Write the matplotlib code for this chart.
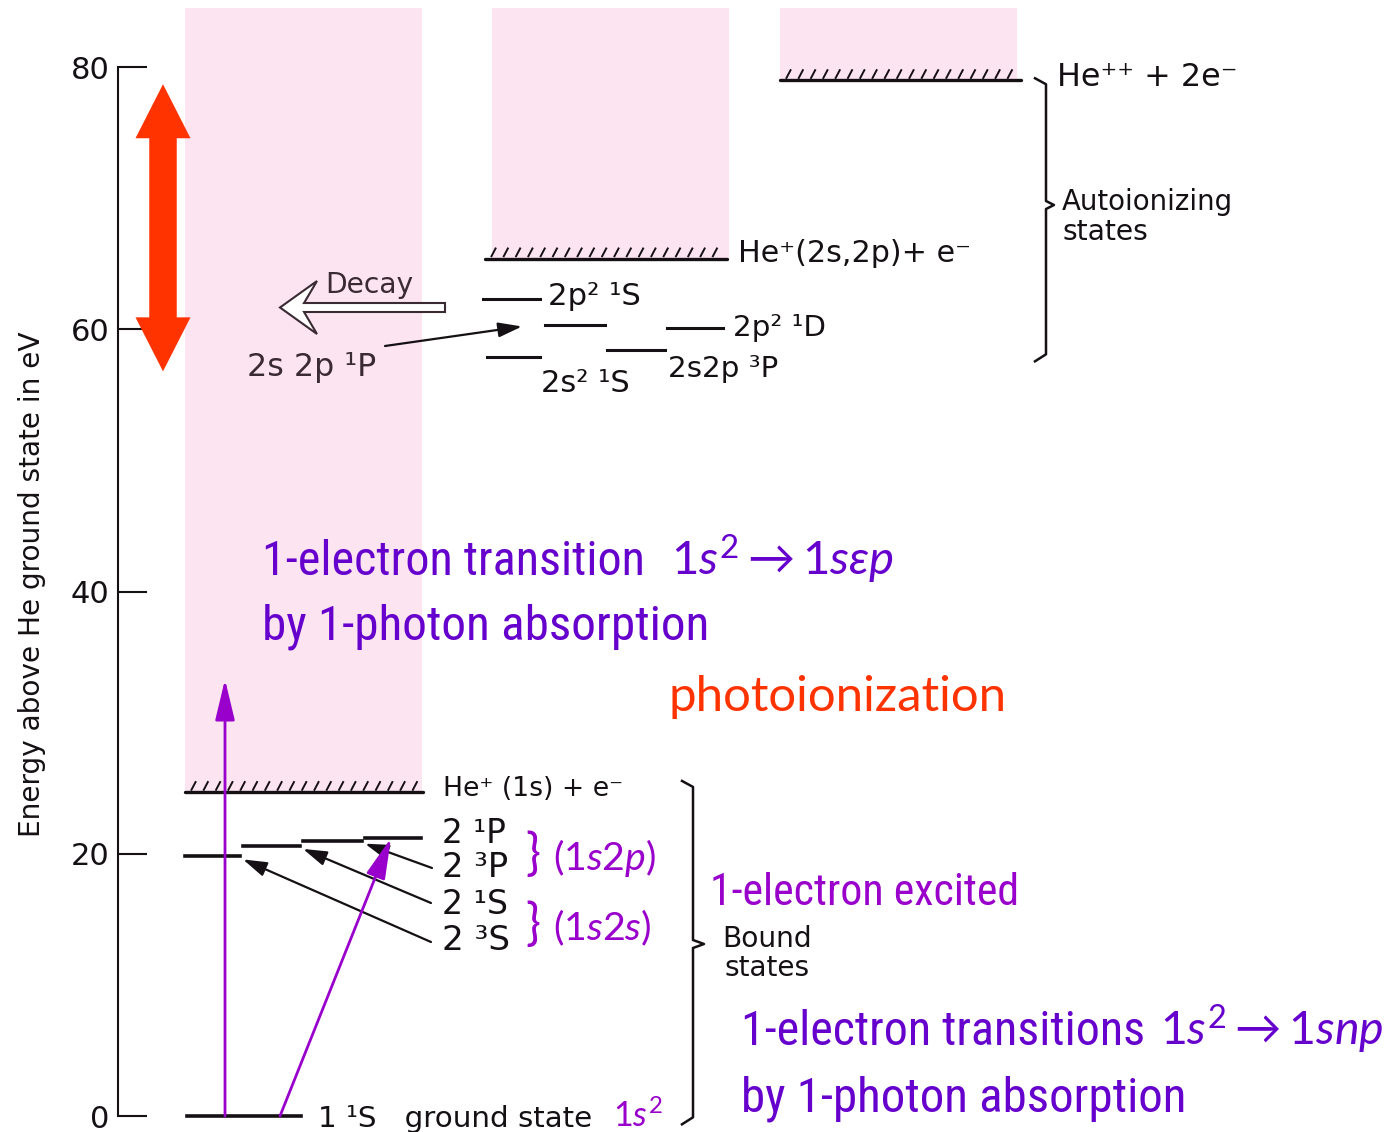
import numpy as np
import matplotlib
matplotlib.use('Agg')
import matplotlib.pyplot as plt
from matplotlib import font_manager as fm
from matplotlib.patches import Rectangle, FancyArrow
from matplotlib.collections import LineCollection

# ---------------- data (energies in eV above He ground state) ----------------
yticks = [0, 20, 40, 60, 80]
bound_labels = ['1 \u00b9S   ground state', '2 \u00b3S', '2 \u00b9S', '2 \u00b3P', '2 \u00b9P']
bound_E = [0.0, 19.8, 20.6, 21.0, 21.2]
auto_labels = ['2s\u00b2 \u00b9S', '2s2p \u00b3P', '2s 2p \u00b9P', '2p\u00b2 \u00b9D', '2p\u00b2 \u00b9S']
auto_E = [57.9, 58.4, 60.3, 60.1, 62.3]
threshold_labels = ['He\u207a (1s) + e\u207b', 'He\u207a(2s,2p)+ e\u207b', 'He\u207a\u207a + 2e\u207b']
threshold_E = [24.7, 65.4, 79.0]
photon_band = [56.8, 78.7]          # red double arrow
continuum_arrow_E = 33.3            # top of vertical photo-absorption arrow

# ---------------- layout helpers ----------------
W, H = 1395, 1132
PX_PER_EV = 13.11
ZERO_PX = 1116
def E(px):
    return (ZERO_PX - px) / PX_PER_EV
dE = 1.0 / PX_PER_EV

entries = fm.fontManager.ttflist
names = {f.name for f in entries}
def has_condensed(fam):
    return any(f.name == fam and 'condensed' in str(f.stretch) for f in entries)

NARROW = None
for fam in ['Liberation Sans Narrow', 'Arial Narrow', 'Roboto Condensed',
            'Open Sans Condensed', 'Noto Sans Condensed']:
    if fam in names:
        NARROW = dict(family=fam)
        break
if NARROW is None:
    for fam in ['Roboto', 'Noto Sans', 'Open Sans', 'Liberation Sans', 'DejaVu Sans']:
        if has_condensed(fam):
            NARROW = dict(family=fam, fontstretch='condensed')
            break
if NARROW is None:
    NARROW = dict(family='DejaVu Sans', fontstretch='condensed')
DIAG = dict(family='DejaVu Sans')
CALI = dict(family='Lato' if 'Lato' in names else 'DejaVu Sans')

plt.rcParams['mathtext.fontset'] = 'custom'
plt.rcParams['mathtext.rm'] = CALI['family']
plt.rcParams['mathtext.it'] = CALI['family'] + ':italic'
plt.rcParams['mathtext.bf'] = CALI['family'] + ':bold'
plt.rcParams['mathtext.fallback'] = 'stixsans'

INK = '#141014'
DARK = '#3a2a33'
PURPLE = '#9900CC'
VIOLET = '#6600CC'
RED = '#FF3300'
PINK = '#FDE4F1'

fig = plt.figure(figsize=(W / 100, H / 100), dpi=100)
ax = fig.add_axes([0, 0, 1, 1])
ax.set_xlim(0, W)
ax.set_ylim(E(H), E(0))

# ---------------- energy axis ----------------
for s in ['top', 'right', 'bottom']:
    ax.spines[s].set_visible(False)
ax.spines['left'].set_position(('data', 118))
ax.spines['left'].set_bounds(0, 80)
ax.spines['left'].set_linewidth(1.5)
ax.spines['left'].set_color(INK)
ax.set_xticks([])
ax.set_yticks(yticks)
ax.set_yticklabels([str(v) for v in yticks], **DIAG)
ax.tick_params(axis='y', direction='in', length=21, width=1.5, pad=6,
               labelsize=22, colors=INK)
ylab = ax.set_ylabel('Energy above He ground state in eV', fontsize=18, color=INK, **DIAG)
ax.yaxis.set_label_coords(46 / W, 1 - 584 / H)

# ---------------- continua (pink) ----------------
cont_x = [(185, 422), (492, 729), (780, 1017)]
cont_top = E(8)
for (x0, x1), et in zip(cont_x, threshold_E):
    ax.add_patch(Rectangle((x0, et), x1 - x0, cont_top - et, facecolor=PINK,
                           edgecolor='none', zorder=0))

# ---------------- thresholds with hatching ----------------
thr_x = [(185, 423), (485, 727), (780, 1021)]
for (x0, x1), et in zip(thr_x, threshold_E):
    ax.plot([x0, x1], [et, et], color=INK, lw=2.4, solid_capstyle='round', zorder=3)
    xs = np.arange(x0 + 6, x1 - 3, 12.3)
    segs = [[(x, et + 1.5 * dE), (x + 5, et + 11 * dE)] for x in xs]
    ax.add_collection(LineCollection(segs, colors=INK, linewidths=1.4, zorder=3))

# ---------------- levels ----------------
bound_x = [(187, 301), (185, 240), (243, 300), (303, 362), (365, 421)]
for (x0, x1), e in zip(bound_x, bound_E):
    ax.plot([x0, x1], [e, e], color=INK, lw=2.6, zorder=3)
auto_x = [(487, 540), (607, 665), (545, 605), (667, 723), (483, 540)]
for (x0, x1), e in zip(auto_x, auto_E):
    ax.plot([x0, x1], [e, e], color=INK, lw=2.2, zorder=3)

# ---------------- text with width fitting ----------------
fits = []
def T(x, ypx, s, width, color=INK, font=DIAG, size=20, **kw):
    t = ax.text(x, E(ypx), s, color=color, fontsize=size, ha='left', va='baseline',
                zorder=5, **font, **kw)
    if width:
        fits.append((t, width))
    return t

bound_lab_pos = [(318, 1127, 274), (442, 950, 68), (442, 914, 66), (442, 877, 66), (442, 843, 64)]
for s, (x, y, w) in zip(bound_labels, bound_lab_pos):
    T(x, y, s, w)
auto_lab_pos = [(541, 392, 89), (668, 377, None), (247, 376, 129), (733, 336, 93), (548, 305, 93)]
auto_txt = []
for i, (s, (x, y, w)) in enumerate(zip(auto_labels, auto_lab_pos)):
    auto_txt.append(T(x, y, s, w, color=DARK if i == 2 else INK))
thr_lab_pos = [(443, 796, 180), (738, 262, 232), (1057, 86, 180)]
for s, (x, y, w) in zip(threshold_labels, thr_lab_pos):
    T(x, y, s, w)
T(1062, 210, 'Autoionizing', 171)
T(1062, 240, 'states', 86)
T(722, 947, 'Bound', 90)
T(725, 976, 'states', 85)
T(325, 293, 'Decay', 88, color=DARK)

# purple annotations
T(262, 575, '1-electron transition', 381, color=VIOLET, font=NARROW)
T(671, 575, r'$1s^2 \rightarrow 1s\varepsilon p$', 224, color=VIOLET, font=CALI)
T(262, 639, 'by 1-photon absorption', 445, color=VIOLET, font=NARROW)
T(668, 711, 'photoionization', 339, color=RED, font=CALI)
T(710, 905, '1-electron excited', 308, color=PURPLE, font=NARROW)
T(741, 1045, '1-electron transitions', 402, color=VIOLET, font=NARROW)
T(1160, 1045, r'$1s^2 \rightarrow 1snp$', 225, color=VIOLET, font=CALI)
T(741, 1111, 'by 1-photon absorption', 444, color=VIOLET, font=NARROW)
T(525, 870, '}', None, color=PURPLE, font=CALI, size=36)
T(525, 940, '}', None, color=PURPLE, font=CALI, size=36)
T(553, 870, r'$(1s2p)$', 104, color=PURPLE, font=CALI)
T(553, 940, r'$(1s2s)$', 99, color=PURPLE, font=CALI)
T(613, 1127, r'$1s^2$', 50, color=PURPLE, font=CALI)

renderer = fig.canvas.get_renderer()
for t, w in fits:
    bb = t.get_window_extent(renderer)
    t.set_fontsize(t.get_fontsize() * w / bb.width)
auto_txt[1].set_fontsize(auto_txt[3].get_fontsize())
bb = ylab.get_window_extent(renderer)
ylab.set_fontsize(ylab.get_fontsize() * 508 / bb.height)

# ---------------- braces ----------------
def brace(x, e_top, e_bot, e_mid, hook=11, cusp=8):
    xs = [x - hook, x, x, x + cusp, x, x, x - hook]
    ys = [e_top + 6 * dE, e_top, e_mid + 4 * dE, e_mid, e_mid - 4 * dE, e_bot, e_bot - 7 * dE]
    ax.plot(xs, ys, color=INK, lw=1.8, solid_joinstyle='round', zorder=3)

brace(1046, threshold_E[2] - 0.3, auto_E[0] + 0.2, E(205))
brace(693, threshold_E[0] + 0.4, bound_E[0] - 0.1, E(944), cusp=11)

# ---------------- arrows ----------------
black_arrow = dict(arrowstyle='-|>,head_length=0.9,head_width=0.28', color=INK, lw=1.6,
                   shrinkA=0, shrinkB=0, mutation_scale=16)
starts = [(431, E(942)), (431, E(903)), (432, E(868))]
for k, (sx, sy) in zip([1, 2, 3], starts):
    ax.annotate('', xy=(bound_x[k][1] + 3, bound_E[k] - 3 * dE), xytext=(sx, sy),
                arrowprops=black_arrow, zorder=4)
ax.annotate('', xy=(522, auto_E[2] - 1 * dE), xytext=(385, E(346)),
            arrowprops=black_arrow, zorder=4)

purple_arrow = dict(arrowstyle='-|>,head_length=1.25,head_width=0.3', color=PURPLE, lw=2.0,
                    shrinkA=0, shrinkB=0, mutation_scale=20)
ax.annotate('', xy=(225, continuum_arrow_E), xytext=(225, bound_E[0]),
            arrowprops=purple_arrow, zorder=4)
ax.annotate('', xy=(391, bound_E[4]), xytext=(280, bound_E[0]),
            arrowprops=purple_arrow, zorder=4)

# Decay (hollow) arrow
ax.add_patch(FancyArrow(445, E(307.5), -165, 0, width=9 * dE, head_width=53 * dE,
                        head_length=37, length_includes_head=True, overhang=0.35,
                        facecolor='white', edgecolor=DARK, lw=1.5, zorder=4))

# Red double arrow: two overlapping single-headed arrows (no seam)
hl = 54 * dE
lo, hi = photon_band
ax.add_patch(FancyArrow(163, lo + hl, 0, hi - lo - hl, width=27, head_width=55,
                        head_length=hl, length_includes_head=True,
                        facecolor=RED, edgecolor='none', zorder=4))
ax.add_patch(FancyArrow(163, hi - hl, 0, lo - hi + hl, width=27, head_width=55,
                        head_length=hl, length_includes_head=True,
                        facecolor=RED, edgecolor='none', zorder=4))

fig.savefig('out.png', dpi=100, facecolor='white')
